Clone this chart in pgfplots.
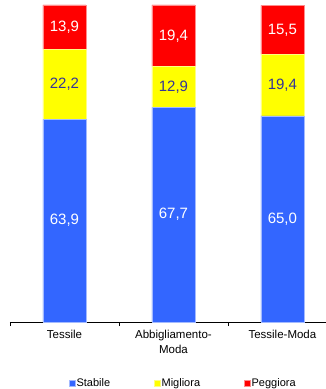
\documentclass[border=0pt]{standalone}
\usepackage{pgfplots}
\pgfplotsset{compat=1.18}
\usepackage{pgfplotstable}
\usepackage{fontspec}
\setmainfont{Liberation Sans}
\definecolor{cBlue}{HTML}{3366FF}
\definecolor{cYellow}{HTML}{FFFF00}
\definecolor{cRed}{HTML}{FF0000}
\definecolor{cNavy}{HTML}{333399}
\pgfplotstableread{
x stabile migliora peggiora
0 63.9 22.2 13.9
1 67.7 12.9 19.4
2 65.0 19.4 15.5
}\datatab
\pgfplotstableread{
x y label
0 31.95 {63,9}
1 33.85 {67,7}
2 32.50 {65,0}
}\labstab
\pgfplotstableread{
x y label
0 75.00 {22,2}
1 74.15 {12,9}
2 74.70 {19,4}
}\labmtab
\pgfplotstableread{
x y label
0 93.05 {13,9}
1 90.30 {19,4}
2 92.15 {15,5}
}\labptab
\begin{document}
\begin{tikzpicture}
\path[use as bounding box] (-10bp,-67bp) rectangle (316bp,322bp);
\begin{axis}[
  at={(0,0)}, anchor=south west,
  scale only axis, width=316bp, height=317bp,
  xmin=-0.5, xmax=2.4, ymin=0, ymax=100,
  ybar stacked, bar width=43bp,
  axis x line*=bottom, axis y line=none,
  x axis line style={-, black, line width=0.8pt},
  xtick={0,1,2},
  xticklabels={Tessile,{Abbigliamento-\\Moda},Tessile-Moda},
  xticklabel style={align=center, font=\fontsize{11.5bp}{14.5bp}\selectfont, text=black, yshift=-5bp},
  major tick length=0pt,
  minor xtick={-0.5,0.5,1.5},
  minor tick length=4bp,
  tick align=outside,
  minor tick style={black, line width=0.6pt},
  legend columns=3,
  legend style={at={(rel axis cs:0.547,-0.1924)}, anchor=center, draw=none, fill=none,
    font=\fontsize{11bp}{13bp}\selectfont, nodes={inner sep=1bp},
    /tikz/every even column/.append style={column sep=43bp}},
  legend image code/.code={\fill[#1] (0bp,-3bp) rectangle (6bp,3bp);},
]
\addplot[fill=cBlue, draw=cBlue!45!white, line width=0.5pt] table[x=x, y=stabile] {\datatab};
\addlegendentry{Stabile}
\addplot[fill=cYellow, draw=cYellow!50!white, line width=0.5pt] table[x=x, y=migliora] {\datatab};
\addlegendentry{Migliora}
\addplot[fill=cRed, draw=cRed!45!white, line width=0.5pt] table[x=x, y=peggiora] {\datatab};
\addlegendentry{Peggiora}
\end{axis}
\begin{axis}[
  at={(0,0)}, anchor=south west,
  scale only axis, width=316bp, height=317bp,
  xmin=-0.5, xmax=2.4, ymin=0, ymax=100,
  axis lines=none,
  nodes near coords style={anchor=center, font=\fontsize{15bp}{17bp}\selectfont},
]
\addplot[draw=none, mark=none, nodes near coords, point meta=explicit symbolic, nodes near coords style={text=white}] table[x=x, y=y, meta=label] {\labstab};
\addplot[draw=none, mark=none, nodes near coords, point meta=explicit symbolic, nodes near coords style={text=cNavy}] table[x=x, y=y, meta=label] {\labmtab};
\addplot[draw=none, mark=none, nodes near coords, point meta=explicit symbolic, nodes near coords style={text=white}] table[x=x, y=y, meta=label] {\labptab};
\end{axis}
\end{tikzpicture}
\end{document}
